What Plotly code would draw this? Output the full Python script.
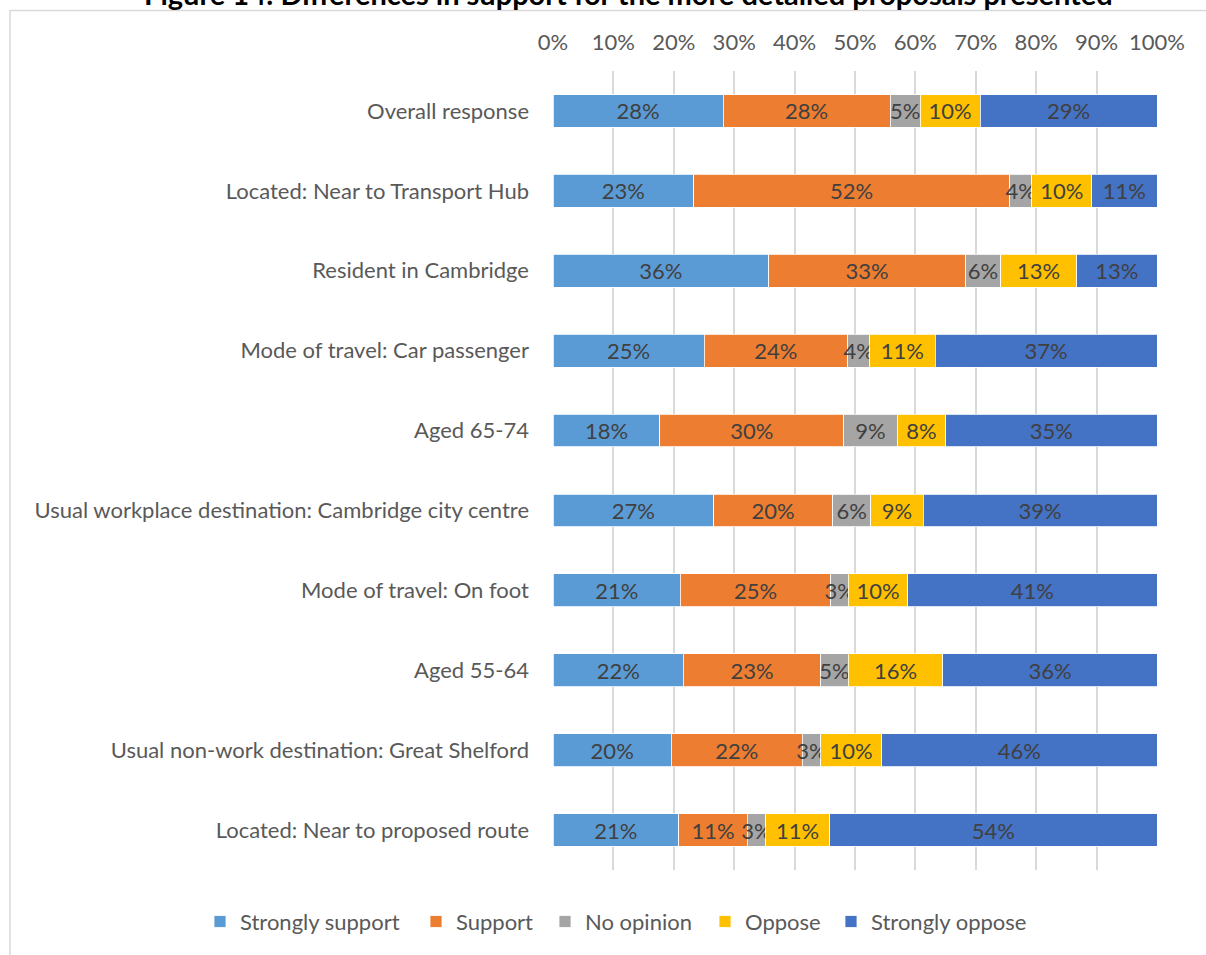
import plotly.graph_objects as go

categories = [
    "Overall response",
    "Located: Near to Transport Hub",
    "Resident in Cambridge",
    "Mode of travel: Car passenger",
    "Aged 65-74",
    "Usual workplace destination: Cambridge city centre",
    "Mode of travel: On foot",
    "Aged 55-64",
    "Usual non-work destination: Great Shelford",
    "Located: Near to proposed route",
]

strongly_support = [28.2, 23.3, 35.7, 25.0, 17.7, 26.6, 21.1, 21.6, 19.6, 20.8]
support          = [27.6, 52.3, 32.6, 23.8, 30.4, 19.7, 24.9, 22.7, 21.7, 11.4]
no_opinion       = [5.0, 3.7, 5.8, 3.6, 8.9, 6.3, 2.9, 4.6, 3.0, 3.0]
oppose           = [9.9, 9.9, 12.6, 10.9, 8.0, 8.7, 9.8, 15.6, 10.1, 10.6]
strongly_oppose  = [29.3, 10.8, 13.3, 36.7, 35.0, 38.7, 41.3, 35.6, 45.6, 54.2]

series_names = ["Strongly support", "Support", "No opinion", "Oppose", "Strongly oppose"]
series_values = [strongly_support, support, no_opinion, oppose, strongly_oppose]
series_colors = ["#5B9BD5", "#ED7D31", "#A5A5A5", "#FFC000", "#4472C4"]

tick_vals = [0, 10, 20, 30, 40, 50, 60, 70, 80, 90, 100]
tick_text = [f"{v}%" for v in tick_vals]

title_text = "Figure 14: Differences in support for the more detailed proposals presented"

FONT = "Lato, Calibri, Carlito, sans-serif"
FS = 22

W, H = 1206, 955
L, R, T, B = 553, 49, 71, 80
pw, ph = W - L - R, H - T - B

def px_x(p):
    return (p - L) / pw

def px_y(p):
    return (H - B - p) / ph

# legend entry left positions (pixels) - one legend box per series
legend_px = [200, 416, 545, 705, 831]
legend_ids = ["legend", "legend2", "legend3", "legend4", "legend5"]

fig = go.Figure()
for name, vals, col, lid in zip(series_names, series_values, series_colors, legend_ids):
    fig.add_trace(go.Bar(
        name=name,
        y=categories,
        x=vals,
        orientation="h",
        legend=lid,
        marker=dict(color=col, line=dict(color="white", width=0.8)),
        texttemplate="%{x:.0f}%",
        textposition="inside",
        insidetextanchor="middle",
        textangle=0,
        textfont=dict(family=FONT, size=FS, color="#404040"),
        hoverinfo="skip",
    ))

legend_layouts = {}
for lid, lx in zip(legend_ids, legend_px):
    legend_layouts[lid] = dict(
        orientation="h",
        xref="paper", yref="paper",
        x=px_x(lx), xanchor="left",
        y=px_y(927), yanchor="middle",
        font=dict(family=FONT, size=FS, color="#595959"),
        itemwidth=30,
        bgcolor="rgba(0,0,0,0)",
    )

fig.update_layout(
    width=W, height=H,
    margin=dict(l=L, r=R, t=T, b=B),
    barmode="stack",
    bargap=0.59,
    plot_bgcolor="white",
    paper_bgcolor="white",
    font=dict(family=FONT, size=FS, color="#595959"),
    uniformtext=dict(minsize=FS, mode="show"),
    xaxis=dict(
        side="top",
        range=[0, 100],
        tickvals=tick_vals,
        ticktext=tick_text,
        showgrid=True,
        gridcolor="#D9D9D9",
        gridwidth=1.5,
        zeroline=False,
        showline=False,
        ticks="",
        ticklabelstandoff=16,
        tickfont=dict(family=FONT, size=FS, color="#595959"),
        fixedrange=True,
    ),
    yaxis=dict(
        categoryorder="array",
        categoryarray=categories,
        autorange="reversed",
        showgrid=False,
        zeroline=False,
        showline=False,
        ticks="",
        ticklabelstandoff=23,
        tickfont=dict(family=FONT, size=FS, color="#595959"),
        fixedrange=True,
    ),
    showlegend=True,
    **legend_layouts,
)

# chart frame border
fig.add_shape(
    type="rect", xref="paper", yref="paper",
    x0=px_x(10), x1=px_x(1225), y0=px_y(10), y1=px_y(975),
    line=dict(color="#D9D9D9", width=1.5), fillcolor="rgba(0,0,0,0)", layer="below",
)

# title (partially cut off at top, as in the reference)
fig.add_annotation(
    text=f"<b>{title_text}</b>",
    xref="paper", yref="paper",
    x=px_x(628), y=px_y(-7),
    xanchor="center", yanchor="middle",
    showarrow=False,
    font=dict(family=FONT, size=29, color="#000000"),
)

fig.write_html(
    "out.html",
    config={"displayModeBar": False},
    post_script="document.body.style.margin='0';",
)
